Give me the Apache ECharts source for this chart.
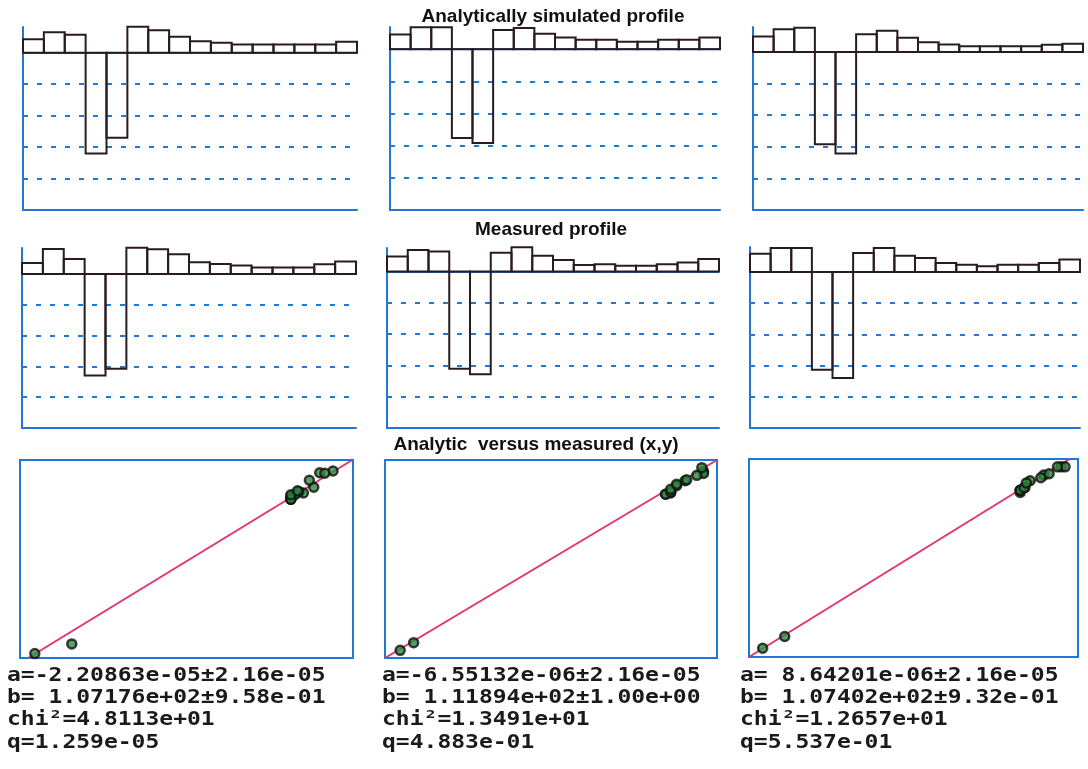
<!DOCTYPE html>
<html>
<head>
<meta charset="utf-8">
<script src="https://cdn.jsdelivr.net/npm/echarts@6/dist/echarts.min.js"></script>
<style>
  html, body { margin: 0; padding: 0; background: #ffffff; }
  #chart { width: 1088px; height: 769px; }
</style>
</head>
<body>
<div id="chart"></div>
<script>
// Profile bins (16 cells along the profile)
const bins = ['1','2','3','4','5','6','7','8','9','10','11','12','13','14','15','16'];

// Analytically simulated profiles, one per column
const analytic1 = [0.43, 0.65, 0.57, -3.20, -2.70, 0.83, 0.72, 0.51, 0.37, 0.32, 0.26, 0.26, 0.26, 0.26, 0.26, 0.35];
const analytic2 = [0.46, 0.68, 0.68, -2.76, -2.92, 0.60, 0.66, 0.48, 0.36, 0.29, 0.29, 0.23, 0.23, 0.29, 0.29, 0.36];
const analytic3 = [0.49, 0.72, 0.77, -2.92, -3.21, 0.56, 0.67, 0.45, 0.31, 0.24, 0.18, 0.18, 0.18, 0.18, 0.23, 0.26];

// Measured profiles, one per column
const measured1 = [0.35, 0.81, 0.48, -3.30, -3.08, 0.85, 0.80, 0.64, 0.38, 0.32, 0.27, 0.21, 0.21, 0.21, 0.31, 0.40];
const measured2 = [0.48, 0.69, 0.64, -3.11, -3.28, 0.60, 0.77, 0.50, 0.37, 0.21, 0.23, 0.18, 0.18, 0.23, 0.29, 0.40];
const measured3 = [0.58, 0.77, 0.77, -3.13, -3.40, 0.61, 0.77, 0.52, 0.45, 0.29, 0.23, 0.18, 0.23, 0.23, 0.29, 0.40];

// Upper bound of each profile's value axis (lower bound is -5)
const profileTops = [0.82, 0.69, 0.79, 0.84, 0.75, 0.80];

// Fitted straight line (analytic -> measured), two end points per column
const fitLine1 = [[-3.29, -3.40], [1.09, 1.10]];
const fitLine2 = [[-3.10, -3.45], [0.84, 0.94]];
const fitLine3 = [[-3.39, -3.60], [0.83, 0.95]];

// Axis extents of the (x,y) comparison plots
const scatterX = [[-3.40, 1.10], [-3.10, 0.84], [-3.39, 0.94]];
const scatterY = [[-3.40, 1.10], [-3.45, 0.94], [-3.60, 0.95]];

// Fit statistics printed under each comparison plot
const fitA   = ['a=-2.20863e-05±2.16e-05', 'a=-6.55132e-06±2.16e-05', 'a= 8.64201e-06±2.16e-05'];
const fitB   = ['b= 1.07176e+02±9.58e-01', 'b= 1.11894e+02±1.00e+00', 'b= 1.07402e+02±9.32e-01'];
const fitChi = ['chi²=4.8113e+01', 'chi²=1.3491e+01', 'chi²=1.2657e+01'];
const fitQ   = ['q=1.259e-05', 'q=4.883e-01', 'q=5.537e-01'];

const BLUE = '#1f78d6';
const DARK = '#2a1b1e';
const PINK = '#e5336d';
const GREEN = '#2f8a3e';

const profiles = [analytic1, analytic2, analytic3, measured1, measured2, measured3];
const fitLines = [fitLine1, fitLine2, fitLine3];
const analytics = [analytic1, analytic2, analytic3];
const measureds = [measured1, measured2, measured3];

const profileGrids = [
  { left: 23,  top: 27,  width: 334, height: 183 },
  { left: 390, top: 27,  width: 330, height: 183 },
  { left: 753, top: 27,  width: 330, height: 183 },
  { left: 22,  top: 248, width: 334, height: 180 },
  { left: 387, top: 248, width: 332, height: 180 },
  { left: 750, top: 247, width: 330, height: 181 }
];
const scatterGrids = [
  { left: 20,  top: 460, width: 333, height: 198 },
  { left: 385, top: 460, width: 332, height: 198 },
  { left: 749, top: 459, width: 329, height: 198 }
];

// Outlined histogram cell: spans the whole category band, from 0 to the value
function renderCell(params, api) {
  const idx = api.value(0);
  const val = api.value(1);
  const p0 = api.coord([idx, 0]);
  const p1 = api.coord([idx, val]);
  const w = api.size([1, 0])[0];
  return {
    type: 'rect',
    shape: { x: p0[0] - w / 2, y: Math.min(p0[1], p1[1]), width: w, height: Math.abs(p1[1] - p0[1]) },
    style: { fill: 'none', stroke: DARK, lineWidth: 2 }
  };
}

const grid = [], xAxis = [], yAxis = [], series = [];

profileGrids.forEach((g, i) => {
  grid.push(Object.assign({ containLabel: false }, g));
  xAxis.push({
    type: 'category', gridIndex: i, data: bins, boundaryGap: true,
    axisLine: { show: true, onZero: false, lineStyle: { color: BLUE, width: 2 } },
    axisTick: { show: false }, axisLabel: { show: false }, splitLine: { show: false }
  });
  yAxis.push({
    type: 'value', gridIndex: i, min: -5, max: profileTops[i], interval: 1,
    axisLine: { show: true, onZero: false, lineStyle: { color: BLUE, width: 2 } },
    axisTick: { show: false }, axisLabel: { show: false },
    splitLine: {
      show: true, showMinLine: false, showMaxLine: false,
      lineStyle: { color: BLUE, type: [5, 9], width: 2 }
    }
  });
  series.push({
    type: 'custom', xAxisIndex: i, yAxisIndex: i, silent: true, z: 3,
    data: profiles[i].map((v, j) => [j, v]),
    encode: { x: 0, y: 1 },
    renderItem: renderCell,
    markLine: {
      silent: true, symbol: 'none', label: { show: false }, z: 2,
      lineStyle: { color: BLUE, type: 'solid', width: 2 },
      data: [{ yAxis: 0 }]
    }
  });
});

scatterGrids.forEach((g, k) => {
  const idx = profileGrids.length + k;
  grid.push(Object.assign({ show: true, borderColor: BLUE, borderWidth: 2, backgroundColor: 'rgba(0,0,0,0)' }, g));
  xAxis.push({
    type: 'value', gridIndex: idx, min: scatterX[k][0], max: scatterX[k][1],
    axisLine: { show: false }, axisTick: { show: false }, axisLabel: { show: false }, splitLine: { show: false }
  });
  yAxis.push({
    type: 'value', gridIndex: idx, min: scatterY[k][0], max: scatterY[k][1],
    axisLine: { show: false }, axisTick: { show: false }, axisLabel: { show: false }, splitLine: { show: false }
  });
  series.push({
    type: 'line', xAxisIndex: idx, yAxisIndex: idx, data: fitLines[k],
    symbol: 'none', silent: true, z: 2,
    lineStyle: { color: PINK, width: 2 }
  });
  series.push({
    type: 'scatter', xAxisIndex: idx, yAxisIndex: idx, silent: true, z: 3,
    data: analytics[k].map((v, i) => [v, measureds[k][i]]),
    symbol: 'circle', symbolSize: 9,
    itemStyle: { color: GREEN, borderColor: '#101010', borderWidth: 2.5 }
  });
});

const titleFont = 'bold 19px "Liberation Sans", Arial, sans-serif';
const monoFont = 'bold 20px "DejaVu Sans Mono", monospace';

function centredText(text, x, y) {
  return {
    type: 'text', x: x, y: y, silent: true,
    style: { text: text, font: titleFont, fill: '#111111',
             align: 'center', textAlign: 'center', verticalAlign: 'middle', textVerticalAlign: 'middle' }
  };
}

const graphic = [
  centredText('Analytically simulated profile', 553, 17),
  centredText('Measured profile', 551, 230),
  centredText('Analytic  versus measured (x,y)', 536, 445)
];

const statX = [7, 382, 740];
const statY = [676, 698, 720, 743];
[fitA, fitB, fitChi, fitQ].forEach((lines, row) => {
  lines.forEach((text, col) => {
    graphic.push({
      type: 'text', x: statX[col], y: statY[row], scaleX: 1.15, silent: true,
      style: { text: text, font: monoFont, fill: '#1a1a1a',
               align: 'left', textAlign: 'left', verticalAlign: 'middle', textVerticalAlign: 'middle' }
    });
  });
});

const chart = echarts.init(document.getElementById('chart'));
chart.setOption({
  backgroundColor: '#ffffff',
  animation: false,
  grid: grid,
  xAxis: xAxis,
  yAxis: yAxis,
  series: series,
  graphic: graphic
});
</script>
</body>
</html>
